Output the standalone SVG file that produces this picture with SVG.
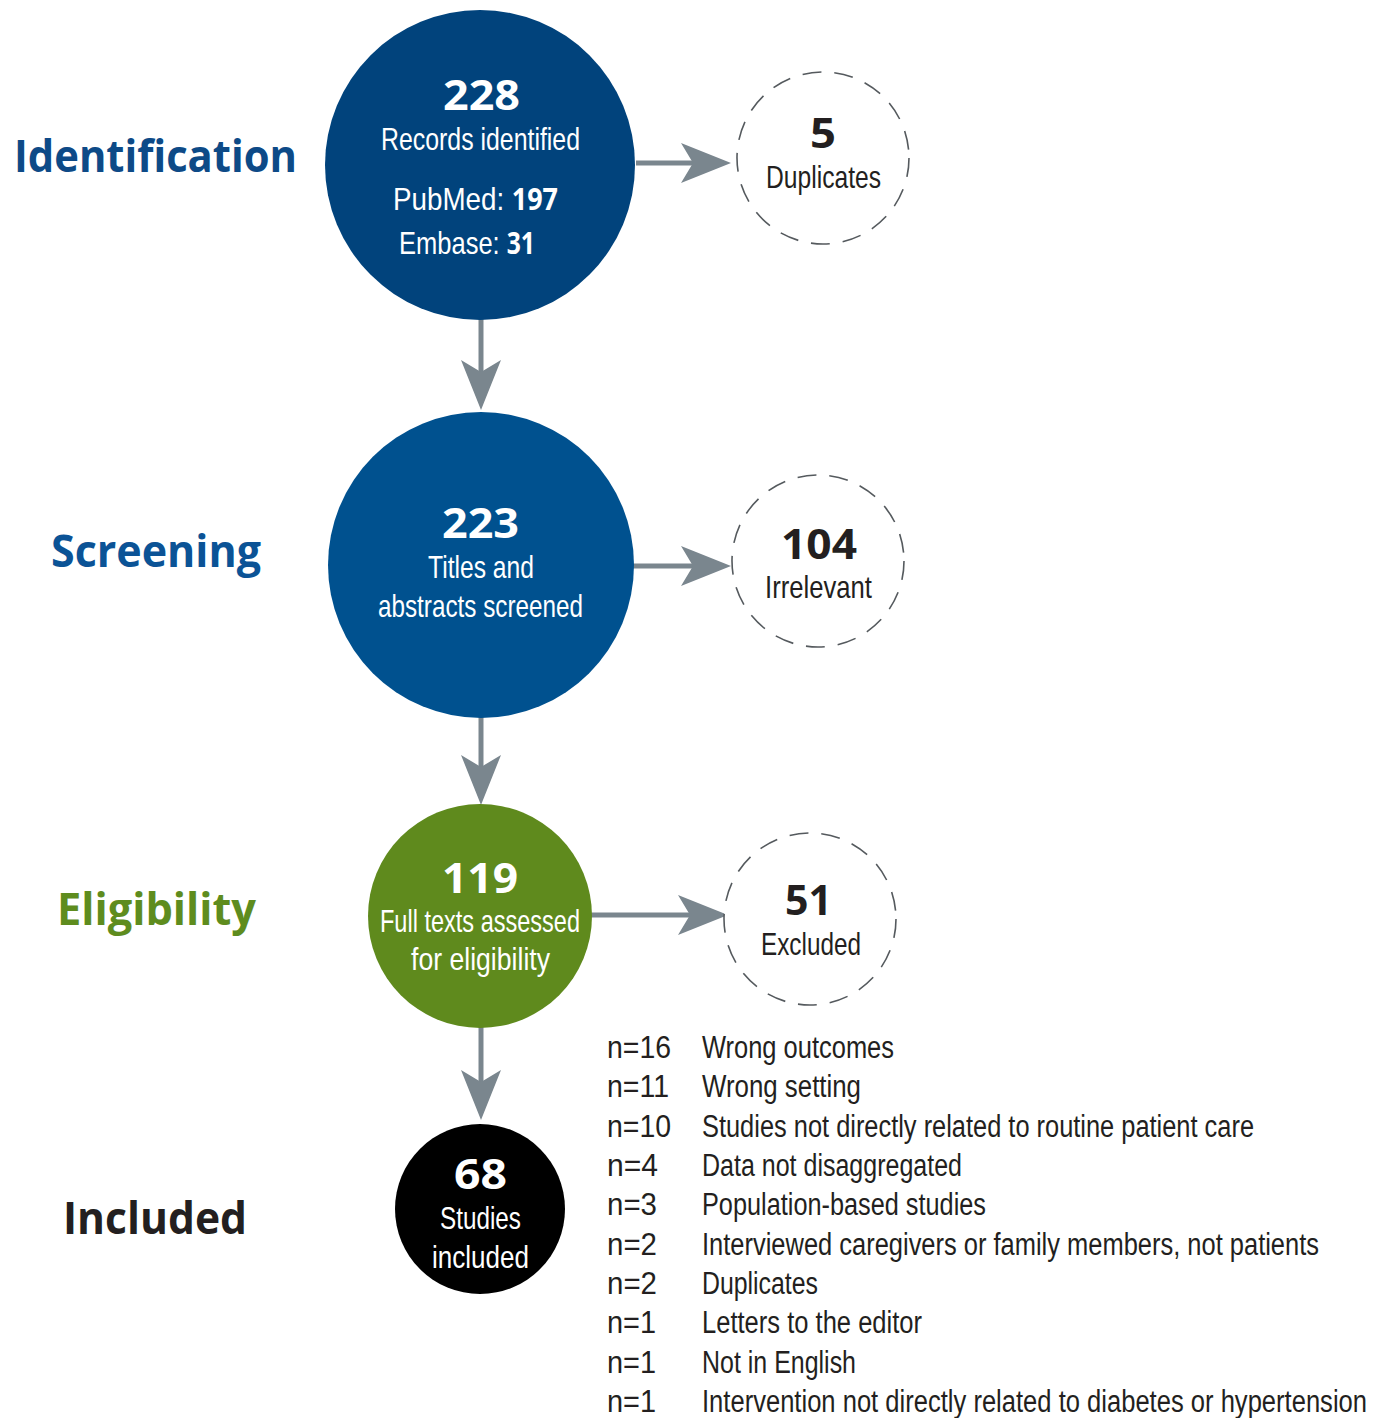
<svg xmlns="http://www.w3.org/2000/svg" width="1385" height="1418" viewBox="0 0 1385 1418">
<defs>
<style>
.stage{font-family:"Open Sans","Noto Sans","Liberation Sans",sans-serif;font-weight:700;font-size:44px;text-anchor:start}
.num{font-family:"Open Sans","Noto Sans","Liberation Sans",sans-serif;font-weight:700;font-size:41px}
.cond{font-family:"Liberation Sans Narrow","Liberation Sans",Arial,sans-serif;font-weight:400;font-size:32px}
.b{font-family:"Open Sans","Noto Sans","Liberation Sans",sans-serif;font-weight:700}
.list{font-family:"Liberation Sans Narrow","Liberation Sans",Arial,sans-serif;font-weight:400;font-size:31px;fill:#231f20}
.w{fill:#ffffff}
.d{fill:#231f20}
.dash{fill:#ffffff;stroke:#555a5e;stroke-width:1.6;stroke-dasharray:19 13}
.conn{stroke:#7a868e;stroke-width:5;fill:none;marker-end:url(#head)}
</style>
<marker id="head" viewBox="0 0 50 40" refX="12" refY="20" markerWidth="50" markerHeight="40" markerUnits="userSpaceOnUse" orient="auto">
<path d="M0,0 L50,20 L0,40 L12,20 Z" fill="#7a868e"/>
</marker>
</defs>
<rect width="1385" height="1418" fill="#ffffff"/>

<g id="stage-labels">
<text class="stage" x="14" y="172" fill="#0d4a87" textLength="283" lengthAdjust="spacingAndGlyphs">Identification</text>
<text class="stage" x="51" y="567" fill="#0b5396" textLength="210" lengthAdjust="spacingAndGlyphs">Screening</text>
<text class="stage" x="57" y="925" fill="#5e8c1e" textLength="199" lengthAdjust="spacingAndGlyphs">Eligibility</text>
<text class="stage" x="63" y="1234" fill="#231f20" textLength="184" lengthAdjust="spacingAndGlyphs">Included</text>
</g>

<g id="connectors">
<line class="conn" x1="636" y1="163" x2="693" y2="163"/>
<line class="conn" x1="481" y1="318" x2="481" y2="372"/>
<line class="conn" x1="633" y1="566" x2="693" y2="566"/>
<line class="conn" x1="481" y1="717" x2="481" y2="767"/>
<line class="conn" x1="591" y1="915" x2="690" y2="915"/>
<line class="conn" x1="481" y1="1027" x2="481" y2="1082"/>
</g>

<g id="node-identified">
<circle cx="480" cy="165" r="155" fill="#01437c"/>
<text class="num w" x="443" y="110" textLength="77" lengthAdjust="spacingAndGlyphs">228</text>
<text class="cond w" x="381" y="150" textLength="199" lengthAdjust="spacingAndGlyphs">Records identified</text>
<text class="cond w" x="393" y="210" font-size="33" textLength="165" lengthAdjust="spacingAndGlyphs">PubMed: <tspan class="b" font-size="31">197</tspan></text>
<text class="cond w" x="399" y="254" font-size="33" textLength="136" lengthAdjust="spacingAndGlyphs">Embase: <tspan class="b" font-size="31">31</tspan></text>
</g>

<g id="node-duplicates">
<circle class="dash" cx="823" cy="158" r="86"/>
<text class="num d" x="810" y="148" textLength="26" lengthAdjust="spacingAndGlyphs">5</text>
<text class="cond d" x="766" y="188" textLength="115" lengthAdjust="spacingAndGlyphs">Duplicates</text>
</g>

<g id="node-screened">
<circle cx="481" cy="565" r="153" fill="#00518f"/>
<text class="num w" x="442" y="538" textLength="77" lengthAdjust="spacingAndGlyphs">223</text>
<text class="cond w" x="428" y="578" textLength="106" lengthAdjust="spacingAndGlyphs">Titles and</text>
<text class="cond w" x="378" y="617" textLength="205" lengthAdjust="spacingAndGlyphs">abstracts screened</text>
</g>

<g id="node-irrelevant">
<circle class="dash" cx="818" cy="561" r="86"/>
<text class="num d" x="781" y="559" textLength="76" lengthAdjust="spacingAndGlyphs">104</text>
<text class="cond d" x="765" y="598" textLength="107" lengthAdjust="spacingAndGlyphs">Irrelevant</text>
</g>

<g id="node-fulltext">
<circle cx="480" cy="916" r="112" fill="#5f8a1d"/>
<text class="num w" x="442" y="893" textLength="76" lengthAdjust="spacingAndGlyphs">119</text>
<text class="cond w" x="380" y="932" textLength="200" lengthAdjust="spacingAndGlyphs">Full texts assessed</text>
<text class="cond w" x="411" y="970" textLength="139" lengthAdjust="spacingAndGlyphs">for eligibility</text>
</g>

<g id="node-excluded">
<circle class="dash" cx="810" cy="919" r="86"/>
<text class="num d" x="785" y="915" textLength="47" lengthAdjust="spacingAndGlyphs">51</text>
<text class="cond d" x="761" y="955" textLength="100" lengthAdjust="spacingAndGlyphs">Excluded</text>
</g>

<g id="node-included">
<circle cx="480" cy="1209" r="85" fill="#000000"/>
<text class="num w" x="454" y="1189" textLength="53" lengthAdjust="spacingAndGlyphs">68</text>
<text class="cond w" x="440" y="1229" textLength="81" lengthAdjust="spacingAndGlyphs">Studies</text>
<text class="cond w" x="432" y="1268" textLength="97" lengthAdjust="spacingAndGlyphs">included</text>
</g>

<g id="exclusion-reasons">
<text class="list" x="607" y="1058" textLength="64" lengthAdjust="spacingAndGlyphs">n=16</text>
<text class="list" x="702" y="1058" textLength="192" lengthAdjust="spacingAndGlyphs">Wrong outcomes</text>
<text class="list" x="607" y="1097" textLength="62" lengthAdjust="spacingAndGlyphs">n=11</text>
<text class="list" x="702" y="1097" textLength="159" lengthAdjust="spacingAndGlyphs">Wrong setting</text>
<text class="list" x="607" y="1137" textLength="64" lengthAdjust="spacingAndGlyphs">n=10</text>
<text class="list" x="702" y="1137" textLength="552" lengthAdjust="spacingAndGlyphs">Studies not directly related to routine patient care</text>
<text class="list" x="607" y="1176" textLength="51" lengthAdjust="spacingAndGlyphs">n=4</text>
<text class="list" x="702" y="1176" textLength="260" lengthAdjust="spacingAndGlyphs">Data not disaggregated</text>
<text class="list" x="607" y="1215" textLength="50" lengthAdjust="spacingAndGlyphs">n=3</text>
<text class="list" x="702" y="1215" textLength="284" lengthAdjust="spacingAndGlyphs">Population-based studies</text>
<text class="list" x="607" y="1255" textLength="50" lengthAdjust="spacingAndGlyphs">n=2</text>
<text class="list" x="702" y="1255" textLength="617" lengthAdjust="spacingAndGlyphs">Interviewed caregivers or family members, not patients</text>
<text class="list" x="607" y="1294" textLength="50" lengthAdjust="spacingAndGlyphs">n=2</text>
<text class="list" x="702" y="1294" textLength="116" lengthAdjust="spacingAndGlyphs">Duplicates</text>
<text class="list" x="607" y="1333" textLength="49" lengthAdjust="spacingAndGlyphs">n=1</text>
<text class="list" x="702" y="1333" textLength="220" lengthAdjust="spacingAndGlyphs">Letters to the editor</text>
<text class="list" x="607" y="1373" textLength="49" lengthAdjust="spacingAndGlyphs">n=1</text>
<text class="list" x="702" y="1373" textLength="154" lengthAdjust="spacingAndGlyphs">Not in English</text>
<text class="list" x="607" y="1412" textLength="49" lengthAdjust="spacingAndGlyphs">n=1</text>
<text class="list" x="702" y="1412" textLength="665" lengthAdjust="spacingAndGlyphs">Intervention not directly related to diabetes or hypertension</text>
</g>
</svg>
